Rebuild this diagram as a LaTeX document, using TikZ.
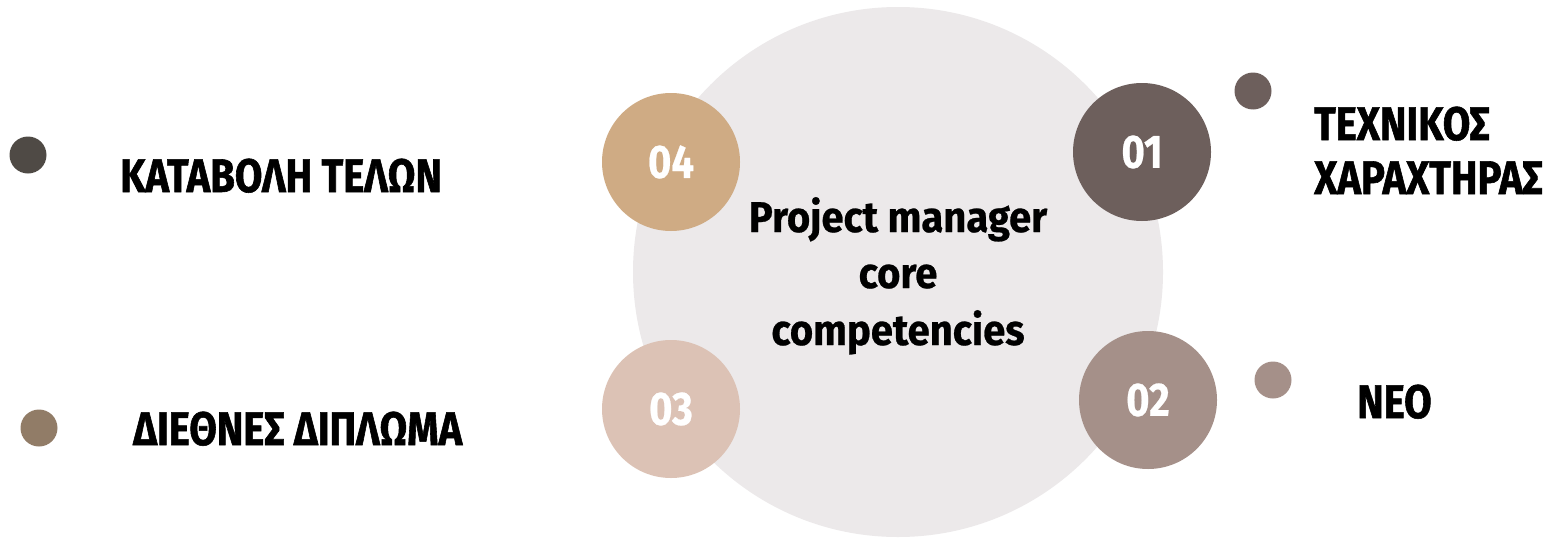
\documentclass[tikz,border=0pt]{standalone}
\usepackage{fontspec}
\setmainfont{Fira Sans}
\newfontfamily\lblfont{Fira Sans}[FakeStretch=0.85, BoldFeatures={FakeBold=1.2}]
\newfontfamily\numfont{Fira Sans}[FakeStretch=0.85, BoldFeatures={FakeBold=0.5}]
\newfontfamily\ctrfont{Fira Sans}[FakeStretch=0.93, BoldFeatures={FakeBold=0.6}]
\definecolor{bigc}{HTML}{ECE9EA}
\definecolor{cfour}{HTML}{CFAB84}
\definecolor{cthree}{HTML}{DCC2B5}
\definecolor{cone}{HTML}{6D5F5C}
\definecolor{ctwo}{HTML}{A59089}
\definecolor{dotk}{HTML}{4F4A45}
\definecolor{dotd}{HTML}{917C67}
\begin{document}
\begin{tikzpicture}[x=1pt,y=-1pt,
  numc/.style={circle,minimum size=138pt,inner sep=0pt,text=white,font=\numfont\fontsize{47}{47}\selectfont\bfseries},
  dotc/.style={circle,minimum size=37pt,inner sep=0pt},
  lbl/.style={anchor=base west,inner sep=0pt,font=\lblfont\fontsize{47}{47}\selectfont\bfseries},
  ctr/.style={anchor=base,inner sep=0pt,font=\ctrfont\fontsize{43}{43}\selectfont\bfseries}]
\useasboundingbox[fill=white] (0,0) rectangle (1552,538);
\node[circle,fill=bigc,minimum size=530pt,inner sep=0pt] (big) at (898,272) {};
\node[numc,fill=cfour] (n4) at (671,162) {04};
\node[numc,fill=cthree] (n3) at (671,409) {03};
\node[numc,fill=cone] (n1) at (1142,152) {01};
\node[numc,fill=ctwo] (n2) at (1148,400) {02};
\node[dotc,fill=dotk] (d4) at (28,155) {};
\node[dotc,fill=dotd] (d3) at (39,428) {};
\node[dotc,fill=cone] (d1) at (1253,91) {};
\node[dotc,fill=ctwo] (d2) at (1273,380) {};
\node[ctr] (c1) at (898,232) {Project manager};
\node[ctr] (c2) at (898,288) {core};
\node[ctr] (c3) at (898,345) {competencies};
\node[lbl] (t4) at (120,192) {ΚΑΤΑΒΟΛΗ ΤΕΛΩΝ};
\node[lbl] (t3) at (133,445) {ΔΙΕΘΝΕΣ ΔΙΠΛΩΜΑ};
\node[lbl] (t1a) at (1314,140) {ΤΕΧΝΙΚΟΣ};
\node[lbl] (t1b) at (1314,194) {ΧΑΡΑΧΤΗΡΑΣ};
\node[lbl] (t2) at (1357,418) {ΝΕΟ};
\end{tikzpicture}
\end{document}
